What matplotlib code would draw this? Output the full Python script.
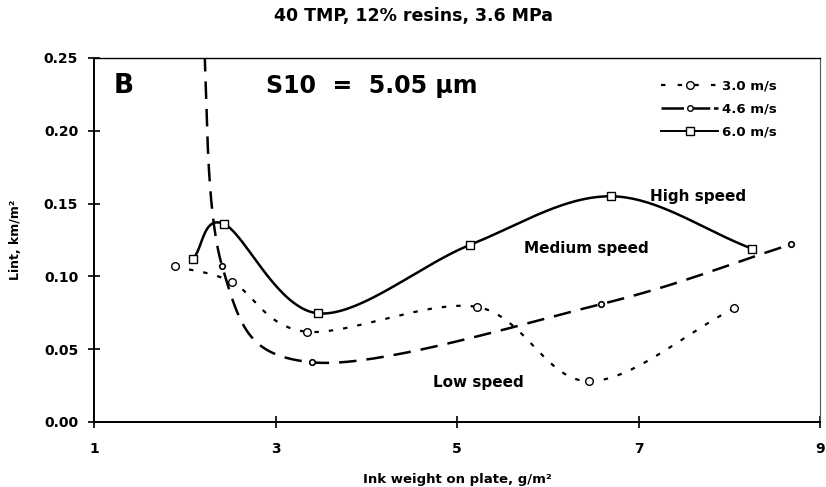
import numpy as np
import matplotlib
matplotlib.use("Agg")
import matplotlib.pyplot as plt

plt.rcParams['font.family'] = ['DejaVu Sans']

# data
x_30 = [1.89, 2.52, 3.34, 5.22, 6.45, 8.05]
y_30 = [0.107, 0.096, 0.062, 0.079, 0.028, 0.078]

x_46 = [2.18, 2.41, 3.40, 6.59, 8.68]
y_46 = [0.300, 0.107, 0.041, 0.081, 0.122]

x_60 = [2.09, 2.43, 3.47, 5.14, 6.70, 8.25]
y_60 = [0.112, 0.136, 0.0746, 0.1216, 0.155, 0.119]

labels = ['3.0 m/s', '4.6 m/s', '6.0 m/s']
xticks = [1, 3, 5, 7, 9]
yticks = [0.00, 0.05, 0.10, 0.15, 0.20, 0.25]


def smooth(xs, ys, n=40):
    # Catmull-Rom smoothing between the points, like a spreadsheet "smoothed line"
    p = np.column_stack([xs, ys]).astype(float)
    p = np.vstack([p[0] - (p[1] - p[0]), p, p[-1] + (p[-1] - p[-2])])
    out = []
    for i in range(1, len(p) - 2):
        p0, p1, p2, p3 = p[i - 1], p[i], p[i + 1], p[i + 2]
        t = np.linspace(0, 1, n)[:, None]
        seg = 0.5 * ((2 * p1) + (-p0 + p2) * t + (2 * p0 - 5 * p1 + 4 * p2 - p3) * t ** 2
                     + (-p0 + 3 * p1 - 3 * p2 + p3) * t ** 3)
        out.append(seg)
    out = np.vstack(out)
    return out[:, 0], out[:, 1]


fig = plt.figure(figsize=(8.26, 4.87), dpi=100)
ax = fig.add_axes([0.114, 0.1335, 0.879, 0.7475])

sx, sy = smooth(x_30, y_30)
ax.plot(sx, sy, color='black', lw=1.6, dashes=(2.0, 4.5))
ax.plot(x_30, y_30, 'o', ms=5.5, mfc='white', mec='black', mew=1.0)

sx, sy = smooth(x_46, y_46)
ax.plot(sx, sy, color='black', lw=1.8, dashes=(7, 4))
ax.plot(x_46, y_46, 'o', ms=4, mfc='white', mec='black', mew=1.2)

sx, sy = smooth(x_60, y_60)
ax.plot(sx, sy, color='black', lw=1.8)
ax.plot(x_60, y_60, 's', ms=5.5, mfc='white', mec='black', mew=1.0)

# legend handles
h1, = ax.plot([], [], color='black', lw=1.6, dashes=(2.0, 5.5), marker='o', ms=5.5, mfc='white', mec='black')
h2, = ax.plot([], [], color='black', lw=1.8, dashes=(9, 1.5), marker='o', ms=4, mfc='white', mec='black')
h3, = ax.plot([], [], color='black', lw=1.4, marker='s', ms=5.5, mfc='white', mec='black')
ax.legend([h1, h2, h3], labels, loc='upper right', bbox_to_anchor=(0.94, 0.94),
          borderaxespad=0, borderpad=0, frameon=False, handlelength=4.3,
          handletextpad=0.3, labelspacing=0.75,
          prop={'size': 9.5, 'weight': 'bold'})

ax.set_xlim(1, 9)
ax.set_ylim(0, 0.25)
ax.set_xticks(xticks)
ax.set_yticks(yticks)
ax.set_yticklabels([f'{v:.2f}' for v in yticks])
ax.tick_params(direction='inout', length=9, width=1.2, labelsize=10)
ax.tick_params(axis='x', pad=10)
ax.tick_params(axis='y', pad=7)
for lab in ax.get_xticklabels() + ax.get_yticklabels():
    lab.set_fontweight('bold')
ax.spines['left'].set_linewidth(1.4)
ax.spines['bottom'].set_linewidth(1.4)
ax.spines['top'].set_linewidth(1.0)
ax.spines['right'].set_linewidth(0.8)
ax.spines['right'].set_color('#555555')

ax.set_xlabel('Ink weight on plate, g/m\u00b2', fontsize=9.5, fontweight='bold', labelpad=12)
ax.set_ylabel('Lint, km/m\u00b2', fontsize=9, fontweight='bold', labelpad=16)

ax.text(1.21, 0.231, 'B', fontsize=19, fontweight='bold', va='center')
ax.text(2.89, 0.231, 'S10  =  5.05 \u03bcm', fontsize=17, fontweight='bold', va='center')
ax.text(7.12, 0.155, 'High speed', fontsize=11, fontweight='bold', va='center')
ax.text(5.74, 0.119, 'Medium speed', fontsize=11, fontweight='bold', va='center')
ax.text(4.73, 0.027, 'Low speed', fontsize=11, fontweight='bold', va='center')

fig.text(0.5, 0.985, '40 TMP, 12% resins, 3.6 MPa', ha='center', va='top',
         fontsize=12.5, fontweight='bold')

fig.savefig('out.png', dpi=100)
